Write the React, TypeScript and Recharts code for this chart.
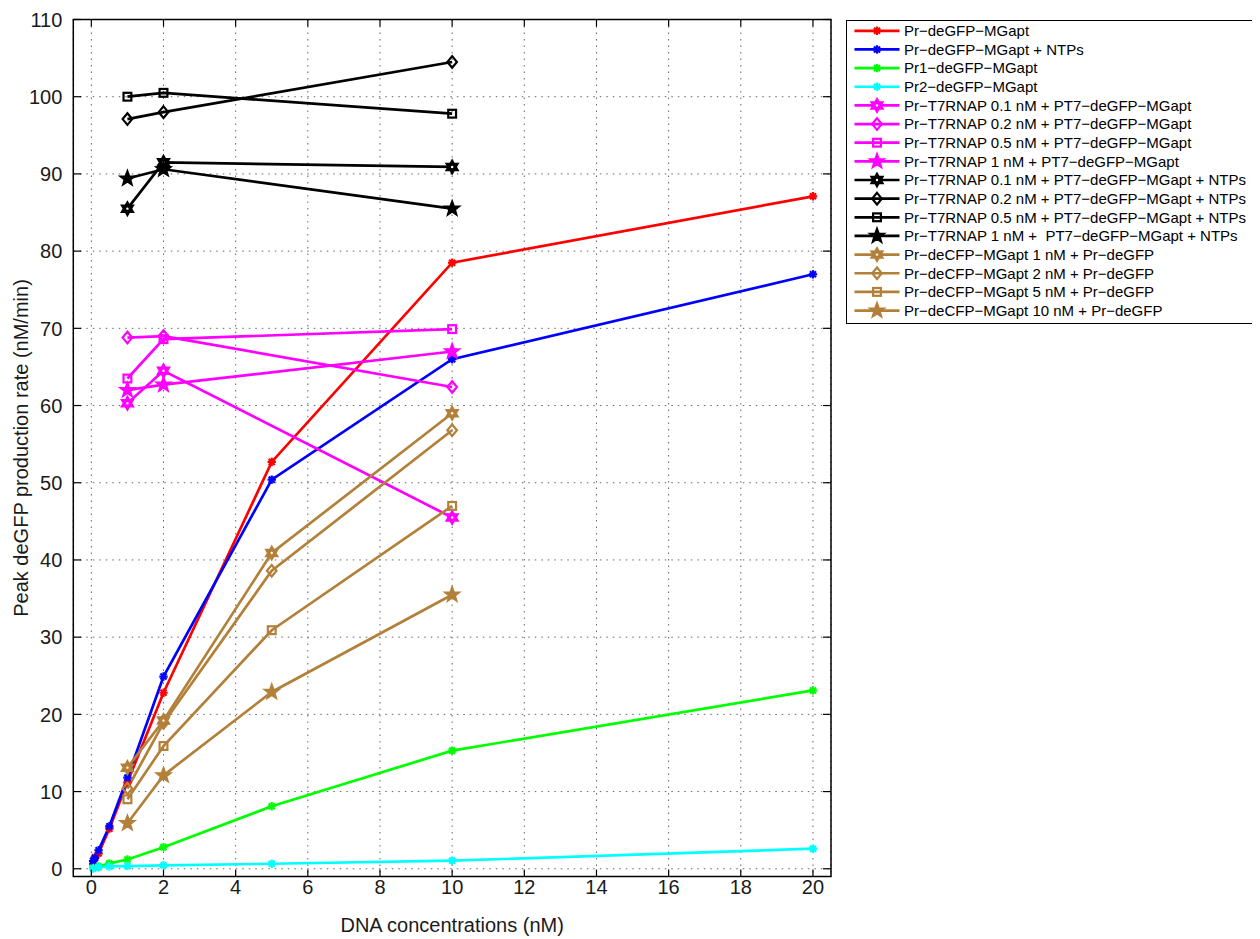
import React from 'react';
import { LineChart, Line, XAxis, YAxis, CartesianGrid, ReferenceArea, Label } from 'recharts';

// ---------- data ----------
const xLow = [0.05, 0.1, 0.2, 0.5, 1, 2, 5, 10, 20];
const redY = [0.6, 1.5, 2.0, 5.2, 11.2, 22.8, 52.7, 78.5, 87.1];
const blueY = [1.0, 1.4, 2.4, 5.5, 11.8, 24.9, 50.4, 66.0, 77.0];
const xPr = [0.05, 0.2, 0.5, 1, 2, 5, 10, 20];
const greenY = [0.1, 0.3, 0.7, 1.2, 2.8, 8.1, 15.3, 23.1];
const cyanY = [0.05, 0.2, 0.3, 0.35, 0.45, 0.65, 1.05, 2.6];
const xT7 = [1, 2, 10];
const mag01 = [60.3, 64.5, 45.5];
const mag02 = [68.8, 69.0, 62.4];
const mag05 = [63.5, 68.6, 69.9];
const mag1 = [62.0, 62.7, 67.0];
const blk01 = [85.5, 91.5, 90.9];
const blk02 = [97.1, 98.0, 104.5];
const blk05 = [100.0, 100.5, 97.8];
const blk1 = [89.4, 90.6, 85.5];
const xCFP = [1, 2, 5, 10];
const cfp1 = [13.1, 19.2, 40.9, 59.0];
const cfp2 = [10.4, 18.9, 38.6, 56.8];
const cfp5 = [9.0, 15.9, 30.9, 47.0];
const cfp10 = [5.9, 12.1, 22.9, 35.5];

const xTicks = [0, 2, 4, 6, 8, 10, 12, 14, 16, 18, 20];
const yTicks = [0, 10, 20, 30, 40, 50, 60, 70, 80, 90, 100, 110];
const xDomain = [-0.5, 20.5];
const yDomain = [-1, 110];

const M = '\u2212';
const names = [
  `Pr${M}deGFP${M}MGapt`,
  `Pr${M}deGFP${M}MGapt + NTPs`,
  `Pr1${M}deGFP${M}MGapt`,
  `Pr2${M}deGFP${M}MGapt`,
  `Pr${M}T7RNAP 0.1 nM + PT7${M}deGFP${M}MGapt`,
  `Pr${M}T7RNAP 0.2 nM + PT7${M}deGFP${M}MGapt`,
  `Pr${M}T7RNAP 0.5 nM + PT7${M}deGFP${M}MGapt`,
  `Pr${M}T7RNAP 1 nM + PT7${M}deGFP${M}MGapt`,
  `Pr${M}T7RNAP 0.1 nM + PT7${M}deGFP${M}MGapt + NTPs`,
  `Pr${M}T7RNAP 0.2 nM + PT7${M}deGFP${M}MGapt + NTPs`,
  `Pr${M}T7RNAP 0.5 nM + PT7${M}deGFP${M}MGapt + NTPs`,
  `Pr${M}T7RNAP 1 nM +  PT7${M}deGFP${M}MGapt + NTPs`,
  `Pr${M}deCFP${M}MGapt 1 nM + Pr${M}deGFP`,
  `Pr${M}deCFP${M}MGapt 2 nM + Pr${M}deGFP`,
  `Pr${M}deCFP${M}MGapt 5 nM + Pr${M}deGFP`,
  `Pr${M}deCFP${M}MGapt 10 nM + Pr${M}deGFP`,
];

const RED = '#ff0000';
const BLUE = '#0000ff';
const GREEN = '#00ff00';
const CYAN = '#00ffff';
const MAG = '#ff00ff';
const BLK = '#000000';
const BRN = '#b3803a';

type Shape = 'asterisk' | 'hexagram' | 'diamond' | 'square' | 'pentagram';
interface Series { name: string; xs: number[]; ys: number[]; color: string; shape: Shape; }

const series: Series[] = [
  { name: names[0], xs: xLow, ys: redY, color: RED, shape: 'asterisk' },
  { name: names[1], xs: xLow, ys: blueY, color: BLUE, shape: 'asterisk' },
  { name: names[2], xs: xPr, ys: greenY, color: GREEN, shape: 'asterisk' },
  { name: names[3], xs: xPr, ys: cyanY, color: CYAN, shape: 'asterisk' },
  { name: names[4], xs: xT7, ys: mag01, color: MAG, shape: 'hexagram' },
  { name: names[5], xs: xT7, ys: mag02, color: MAG, shape: 'diamond' },
  { name: names[6], xs: xT7, ys: mag05, color: MAG, shape: 'square' },
  { name: names[7], xs: xT7, ys: mag1, color: MAG, shape: 'pentagram' },
  { name: names[8], xs: xT7, ys: blk01, color: BLK, shape: 'hexagram' },
  { name: names[9], xs: xT7, ys: blk02, color: BLK, shape: 'diamond' },
  { name: names[10], xs: xT7, ys: blk05, color: BLK, shape: 'square' },
  { name: names[11], xs: xT7, ys: blk1, color: BLK, shape: 'pentagram' },
  { name: names[12], xs: xCFP, ys: cfp1, color: BRN, shape: 'hexagram' },
  { name: names[13], xs: xCFP, ys: cfp2, color: BRN, shape: 'diamond' },
  { name: names[14], xs: xCFP, ys: cfp5, color: BRN, shape: 'square' },
  { name: names[15], xs: xCFP, ys: cfp10, color: BRN, shape: 'pentagram' },
];

// ---------- layout ----------
const W = 1252;
const H = 931;
const PL = 65.3;
const PT = 11.5;
const PR = 823;
const PB = 868.5;
const FONT = '"Liberation Sans", Arial, Helvetica, sans-serif';
const TXT = '#1a1a1a';

function starPoints(cx: number, cy: number, n: number, ro: number, ri: number): string {
  const pts: string[] = [];
  for (let i = 0; i < 2 * n; i++) {
    const r = i % 2 === 0 ? ro : ri;
    const a = -Math.PI / 2 + (i * Math.PI) / n;
    pts.push(`${(cx + r * Math.cos(a)).toFixed(2)},${(cy + r * Math.sin(a)).toFixed(2)}`);
  }
  return pts.join(' ');
}

function Marker({ shape, cx, cy, color }: { shape: Shape; cx: number; cy: number; color: string }) {
  const common = { stroke: color, strokeWidth: 2.2, fill: 'none', strokeLinejoin: 'miter' as const };
  if (shape === 'asterisk') {
    const r = 4.2;
    const d = r * 0.72;
    return (
      <g stroke={color} strokeWidth={2.2}>
        <line x1={cx - r} y1={cy} x2={cx + r} y2={cy} />
        <line x1={cx} y1={cy - r} x2={cx} y2={cy + r} />
        <line x1={cx - d} y1={cy - d} x2={cx + d} y2={cy + d} />
        <line x1={cx - d} y1={cy + d} x2={cx + d} y2={cy - d} />
      </g>
    );
  }
  if (shape === 'hexagram')
    return (
      <g>
        <polygon points={starPoints(cx, cy, 6, 7, 4)} stroke={color} strokeWidth={1.5} fill={color} strokeLinejoin="miter" />
        <circle cx={cx} cy={cy} r={1.2} fill="#fff" />
      </g>
    );
  if (shape === 'pentagram')
    return <polygon points={starPoints(cx, cy, 5, 8, 3.3)} stroke={color} strokeWidth={1.5} fill={color} strokeLinejoin="miter" />;
  if (shape === 'diamond')
    return <polygon points={`${cx},${cy - 5.8} ${cx + 4.8},${cy} ${cx},${cy + 5.8} ${cx - 4.8},${cy}`} {...common} />;
  return <rect x={cx - 3.9} y={cy - 3.9} width={7.8} height={7.8} {...common} />;
}

const XTick = (props: any) => {
  const { x, y, payload } = props;
  return (
    <g>
      <line x1={x} x2={x} y1={y} y2={y - 7} stroke="#000" strokeWidth={1.2} />
      <line x1={x} x2={x} y1={PT} y2={PT + 7} stroke="#000" strokeWidth={1.2} />
      <text x={x} y={y + 17} textAnchor="middle" fontSize={20} fill={TXT} fontFamily={FONT}>
        {payload.value}
      </text>
    </g>
  );
};

const YTick = (props: any) => {
  const { x, y, payload } = props;
  return (
    <g>
      <line x1={x} x2={x + 8} y1={y} y2={y} stroke="#000" strokeWidth={1.2} />
      <line x1={PR - 8} x2={PR} y1={y} y2={y} stroke="#000" strokeWidth={1.2} />
      <text x={x - 11} y={y} dy="0.36em" textAnchor="end" fontSize={20} fill={TXT} fontFamily={FONT}>
        {payload.value}
      </text>
    </g>
  );
};

const XTitle = () => (
  <text x={(PL + PR) / 2} y={H - 7} textAnchor="middle" fontSize={20} fill={TXT} fontFamily={FONT}>
    DNA concentrations (nM)
  </text>
);

const YTitle = () => {
  const x0 = 20.3;
  const y0 = (PT + PB) / 2;
  return (
    <text x={x0} y={y0} transform={`rotate(-90 ${x0} ${y0})`} textAnchor="middle" fontSize={20} fill={TXT} fontFamily={FONT}>
      Peak deGFP production rate (nM/min)
    </text>
  );
};

const LegendBox = () => {
  const bw = 412;
  const bh = 304;
  return (
    <div
      style={{
        position: 'absolute',
        left: 838,
        top: 12,
        width: bw,
        height: bh,
        boxSizing: 'border-box',
        border: '1.5px solid #000',
        background: '#fff',
      }}
    >
      <svg width={bw - 3} height={bh - 3} style={{ position: 'absolute', left: 0, top: 0 }}>
        {series.map((s, i) => {
          const y = 9.8 + 18.65 * i;
          return (
            <g key={s.name}>
              <line x1={7.5} x2={52.5} y1={y} y2={y} stroke={s.color} strokeWidth={2.7} />
              <Marker shape={s.shape} cx={30} cy={y} color={s.color} />
              <text x={57} y={y + 5.3} fontSize={15} fill="#000" fontFamily={FONT} style={{ whiteSpace: 'pre' }}>
                {s.name}
              </text>
            </g>
          );
        })}
      </svg>
    </div>
  );
};

export default function App() {
  return (
    <div style={{ position: 'relative', width: W, height: H, fontFamily: FONT }}>
      <LineChart width={W} height={H} margin={{ top: PT, right: W - PR, bottom: 0, left: 0 }}>
        <CartesianGrid stroke="#666" strokeDasharray="1.5 5" strokeWidth={1} />
        <XAxis
          dataKey="x"
          type="number"
          domain={xDomain}
          ticks={xTicks}
          allowDataOverflow
          interval={0}
          height={H - PB}
          axisLine={false}
          tickLine={false}
          tickSize={0}
          tickMargin={0}
          tick={(p: any) => <XTick {...p} />}
        >
          <Label content={() => <XTitle />} />
        </XAxis>
        <YAxis
          type="number"
          domain={yDomain}
          ticks={yTicks}
          allowDataOverflow
          interval={0}
          width={PL}
          axisLine={false}
          tickLine={false}
          tickSize={0}
          tickMargin={0}
          tick={(p: any) => <YTick {...p} />}
        >
          <Label content={() => <YTitle />} />
        </YAxis>
        {series.map((s) => (
          <Line
            key={s.name}
            name={s.name}
            data={s.xs.map((x, i) => ({ x, y: s.ys[i] }))}
            dataKey="y"
            type="linear"
            stroke={s.color}
            strokeWidth={2.7}
            isAnimationActive={false}
            activeDot={false}
            dot={(p: any) => (
              <Marker key={`${s.name}-${p.index}`} shape={s.shape} cx={p.cx} cy={p.cy} color={s.color} />
            )}
          />
        ))}
        <ReferenceArea
          x1={xDomain[0]}
          x2={xDomain[1]}
          y1={yDomain[0]}
          y2={yDomain[1]}
          fill="none"
          fillOpacity={0}
          stroke="#000"
          strokeWidth={1.5}
          ifOverflow="visible"
        />
      </LineChart>
      <LegendBox />
    </div>
  );
}
